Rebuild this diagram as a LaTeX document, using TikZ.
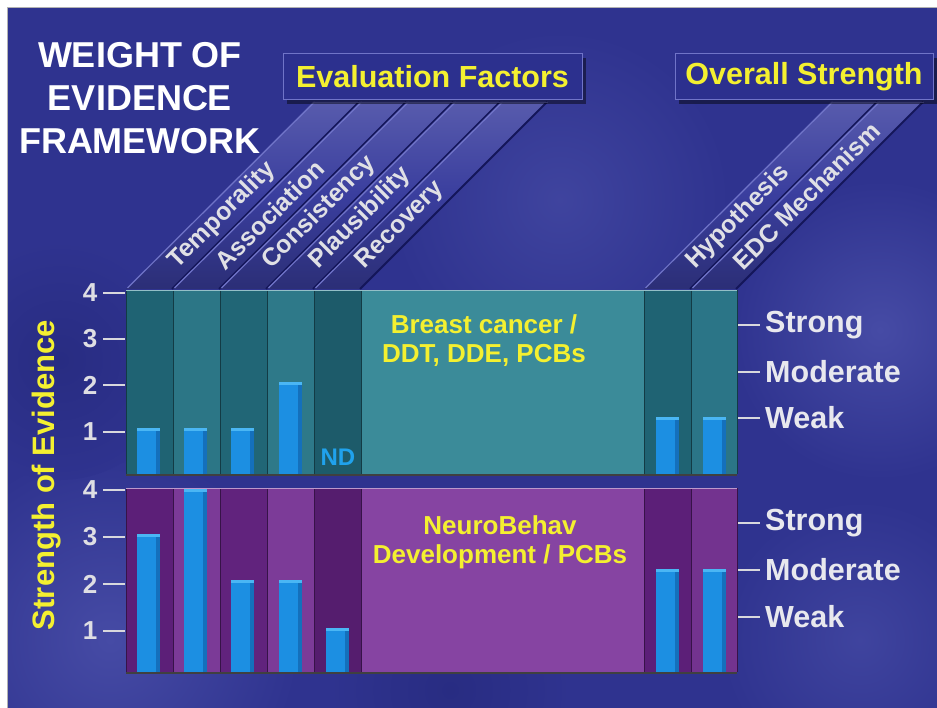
\documentclass[tikz,border=0pt]{standalone}
\usepackage{fontspec}
\setmainfont{Liberation Sans}
\definecolor{bg}{HTML}{2F338F}
\definecolor{bglt}{HTML}{464BA5}
\definecolor{bgdk}{HTML}{282C82}
\definecolor{band}{HTML}{3A3E9E}
\definecolor{bandhi}{HTML}{7074C8}
\definecolor{banddk}{HTML}{14165A}
\definecolor{hdr}{HTML}{2C308E}
\definecolor{yel}{HTML}{F4F030}
\definecolor{txt}{HTML}{E8E8EE}
\definecolor{tA}{HTML}{1F6373}
\definecolor{tB}{HTML}{2C7686}
\definecolor{tC}{HTML}{3B8B99}
\definecolor{tD}{HTML}{2B7587}
\definecolor{pA}{HTML}{5C1F78}
\definecolor{pB}{HTML}{7B3A97}
\definecolor{pC}{HTML}{8644A2}
\definecolor{pD}{HTML}{73338F}
\definecolor{barc}{HTML}{1C8FE2}
\definecolor{bartop}{HTML}{4AB6F4}
\definecolor{bardk}{HTML}{1470BC}
\definecolor{nd}{HTML}{20A2EC}
\tikzset{
  bandlab/.style={text=txt!92!gray, font=\bfseries\fontsize{25}{28}\selectfont, inner sep=0pt, rotate=45, anchor=west},
  hdrbox/.style={fill=hdr, draw=bandhi, line width=1pt, text=yel, font=\bfseries\fontsize{30.5}{34}\selectfont, inner sep=0pt},
  title/.style={text=white, font=\bfseries\fontsize{36}{43}\selectfont, align=center, inner sep=0pt},
  numlab/.style={text=txt!90!gray, font=\bfseries\fontsize{26}{28}\selectfont, inner sep=0pt},
  rlab/.style={text=txt, font=\bfseries\fontsize{30.5}{32}\selectfont, inner sep=0pt, anchor=west},
  ctext/.style={text=yel, font=\bfseries\fontsize{26}{29}\selectfont, align=center, inner sep=0pt},
  tickline/.style={draw=txt!85!gray, line width=2pt},
}
\begin{document}
\begin{tikzpicture}[x=1pt,y=-1pt]
\useasboundingbox (0,0) rectangle (937,708);
% background
\fill[white] (0,0) rectangle (937,708);
\fill[bg] (8,8) rectangle (937,708);
\draw[gray!60, line width=1pt] (7.5,708) -- (7.5,7.5) -- (937,7.5);
\begin{scope}
  \clip (8,8) rectangle (937,708);
  \shade[inner color=bglt, outer color=bg] (110,640) circle (190);
  \shade[inner color=bglt, outer color=bg] (880,330) circle (150);
  \shade[inner color=bglt!70!bg, outer color=bg] (560,200) circle (170);
  \shade[inner color=bglt!70!bg, outer color=bg] (860,640) circle (140);
  \shade[inner color=bgdk, outer color=bg] (60,360) circle (120);
  \shade[inner color=bgdk, outer color=bg] (450,690) circle (120);
\end{scope}
% title
\node[title] (ttl) at (140,98) {WEIGHT OF\\EVIDENCE\\FRAMEWORK};
% slanted bands
\foreach \xl/\xr/\lab [count=\i] in {126/173/Temporality, 173/220/Association, 220/267/Consistency, 267/314/Plausibility, 314/361/Recovery, 644/691/Hypothesis, 691/737/EDC Mechanism} {
  \shade[top color=band!85!white, bottom color=band!75!black, middle color=band] (\xl,289) -- (\xr,289) -- (\xr+187,102) -- (\xl+187,102) -- cycle;
  \draw[bandhi, line width=1.2pt] (\xl+1.5,288) -- (\xl+188.5,102);
  \draw[banddk, line width=2pt] (\xr-1,289) -- (\xr+186,102);
  \draw[bandhi!70!band, line width=0.8pt] (\xl+187,102.5) -- (\xr+187,102.5);
  \node[bandlab] (b\i) at ({(\xl+\xr)/2+23},265) {\lab};
}
% header boxes
\fill[black, opacity=0.45] (287,58) rectangle (586,104);
\node[hdrbox, minimum width=299pt, minimum height=46pt] (ef) at (432.5,77) {Evaluation Factors};
\fill[black, opacity=0.45] (679,58) rectangle (937,104);
\node[hdrbox, minimum width=258pt, minimum height=46pt] (os) at (804,77) {Overall Strength};
% top panel
\foreach \xl/\xr/\c in {126/173/tA, 173/220/tB, 220/267/tA!85!tB, 267/314/tB!85!tC, 314/361/tA!92!black, 361/644/tC, 644/691/tA, 691/737/tD} {
  \fill[\c] (\xl,290) rectangle (\xr,474);
  \draw[tA!60!black, line width=0.8pt] (\xl,290) -- (\xl,474);
}
\draw[tC!55!white, line width=1.5pt] (126,290.5) -- (737,290.5);
\draw[tA!60!black, line width=0.8pt] (737,290) -- (737,474);
\draw[black!75, line width=2.5pt] (126,475) -- (737,475);
% bottom panel
\foreach \xl/\xr/\c in {126/173/pA, 173/220/pB, 220/267/pA!85!pB, 267/314/pB!90!pC, 314/361/pA!92!black, 361/644/pC, 644/691/pA, 691/737/pD} {
  \fill[\c] (\xl,488) rectangle (\xr,672);
  \draw[pA!60!black, line width=0.8pt] (\xl,488) -- (\xl,672);
}
\draw[pC!55!white, line width=1.5pt] (126,488.5) -- (737,488.5);
\draw[pA!60!black, line width=0.8pt] (737,488) -- (737,672);
\draw[black!75, line width=2.5pt] (126,673) -- (737,673);
% bars: left x / top y / bottom y
\foreach \bx/\bt/\bb in {137/428/474, 184/428/474, 231/428/474, 279/382/474, 656/417/474, 703/417/474,
                         137/534/672, 184/489/672, 231/580/672, 279/580/672, 326/628/672, 656/569/672, 703/569/672} {
  \fill[barc] (\bx,\bt) rectangle (\bx+23,\bb);
  \fill[bardk] (\bx+19,\bt) rectangle (\bx+23,\bb);
  \fill[bartop] (\bx,\bt) rectangle (\bx+23,\bt+3);
}
\node[text=nd, font=\bfseries\fontsize{24}{26}\selectfont, inner sep=0pt] (nd) at (338,457) {ND};
% center labels
\node[ctext] (c1) at (484,341) {Breast cancer /\\DDT, DDE, PCBs};
\node[ctext] (c2) at (500,542) {NeuroBehav\\Development / PCBs};
% left axis
\foreach \v/\yy [count=\i] in {4/293, 3/339, 2/385, 1/432} {
  \coordinate (lt\i a) at (103,\yy); \coordinate (lt\i b) at (125,\yy);
  \draw[tickline] (lt\i a) -- (lt\i b);
  \node[numlab] (ln\i) at (90,\yy) {\v};
}
\foreach \v/\yy [count=\i] in {4/490, 3/537, 2/584, 1/631} {
  \coordinate (lb\i a) at (103,\yy); \coordinate (lb\i b) at (125,\yy);
  \draw[tickline] (lb\i a) -- (lb\i b);
  \node[numlab] (lbn\i) at (90,\yy) {\v};
}
\node[text=yel, font=\bfseries\fontsize{31}{33}\selectfont, inner sep=0pt, rotate=90] (yl) at (47,475) {Strength of Evidence};
% right labels
\foreach \t/\yy [count=\i] in {Strong/325, Moderate/372, Weak/418, Strong/523, Moderate/570, Weak/617} {
  \coordinate (ra\i) at (738,\yy); \coordinate (rb\i) at (760,\yy);
  \draw[tickline] (ra\i) -- (rb\i);
  \node[rlab] (rl\i) at (765,\yy) {\t};
}
\end{tikzpicture}
\end{document}
